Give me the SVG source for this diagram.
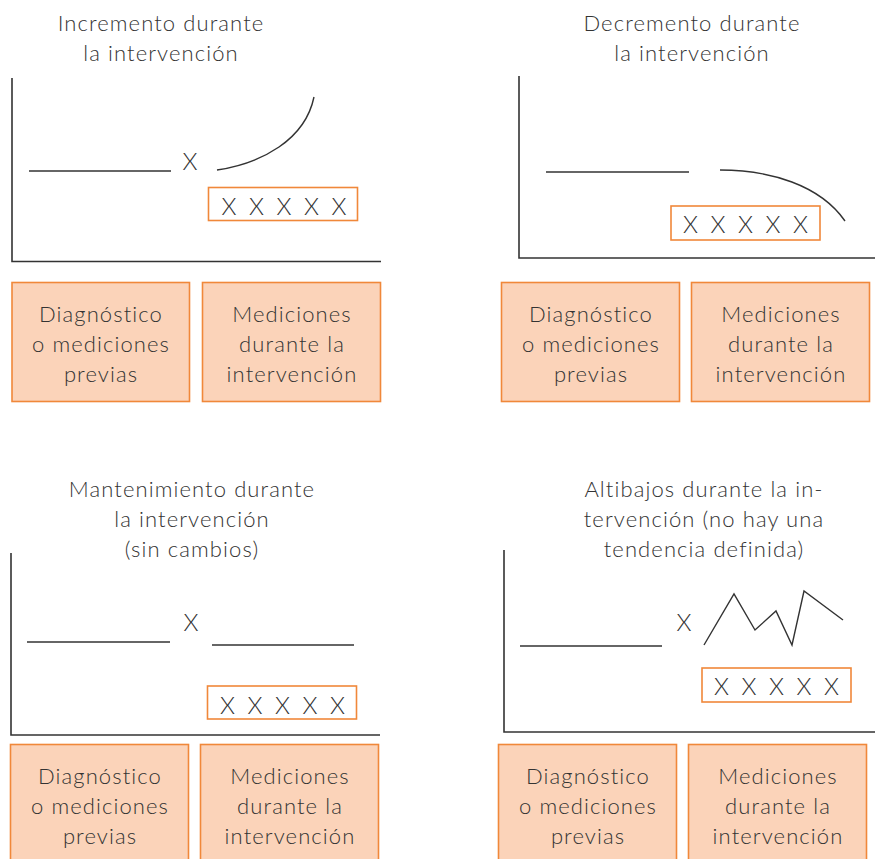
<svg xmlns="http://www.w3.org/2000/svg" width="875" height="859" viewBox="0 0 875 859">
<style>
text{font-family:"Lato","Open Sans","Liberation Sans",sans-serif;font-weight:300;font-size:22px;letter-spacing:1.1px;fill:#333;text-anchor:middle}
.ax{stroke:#333;stroke-width:1.6;fill:none}
.ln{stroke:#333;stroke-width:1.4;fill:none}
.xb{fill:#fff;stroke:#f0883a;stroke-width:1.6}
.cb{fill:#fbd3b9;stroke:#f0883a;stroke-width:1.6}
.xs{font-size:24px;letter-spacing:3px}
.xo{font-size:24px;letter-spacing:0}
</style>
<rect width="875" height="859" fill="#fff"/>

<g id="panel1">
<text x="161" y="31">Incremento durante</text>
<text x="161" y="61">la intervención</text>
<path class="ax" d="M12,78 V261.5 H381"/>
<line class="ln" x1="29" y1="171" x2="171" y2="171"/>
<text class="xo" x="190" y="170">X</text>
<path class="ln" d="M217,170 C262,163 305,140 314,97"/>
<rect class="xb" x="208.5" y="187.5" width="149" height="33"/>
<text class="xs" x="285.5" y="215">X X X X X</text>
</g>
<g id="p1-box1"><rect class="cb" x="12" y="282.5" width="177.5" height="119"/>
<text x="101" y="322">Diagnóstico</text><text x="101" y="352">o mediciones</text><text x="101" y="382">previas</text></g>
<g id="p1-box2"><rect class="cb" x="202.5" y="282.5" width="178" height="119"/>
<text x="292" y="322">Mediciones</text><text x="292" y="352">durante la</text><text x="292" y="382">intervención</text></g>

<g id="panel2">
<text x="692" y="31">Decremento durante</text>
<text x="692" y="61">la intervención</text>
<path class="ax" d="M519,76 V258 H875"/>
<line class="ln" x1="546" y1="172" x2="689" y2="172"/>
<path class="ln" d="M720,170 C770,170 820,185 845,221"/>
<rect class="xb" x="671" y="206" width="149" height="34"/>
<text class="xs" x="747" y="233">X X X X X</text>
</g>
<g id="p2-box1"><rect class="cb" x="501.5" y="282.5" width="178" height="119"/>
<text x="591" y="322">Diagnóstico</text><text x="591" y="352">o mediciones</text><text x="591" y="382">previas</text></g>
<g id="p2-box2"><rect class="cb" x="691.5" y="282.5" width="178" height="119"/>
<text x="781" y="322">Mediciones</text><text x="781" y="352">durante la</text><text x="781" y="382">intervención</text></g>

<g id="panel3">
<text x="192" y="497">Mantenimiento durante</text>
<text x="192" y="527">la intervención</text>
<text x="192" y="557">(sin cambios)</text>
<path class="ax" d="M11,553 V735 H380"/>
<line class="ln" x1="27" y1="642" x2="170" y2="642"/>
<text class="xo" x="191" y="631">X</text>
<line class="ln" x1="212" y1="645" x2="354" y2="645"/>
<rect class="xb" x="207.5" y="686" width="149" height="33"/>
<text class="xs" x="284" y="714">X X X X X</text>
</g>
<g id="p3-box1"><rect class="cb" x="10.5" y="744.5" width="178" height="120"/>
<text x="100" y="784">Diagnóstico</text><text x="100" y="814">o mediciones</text><text x="100" y="844">previas</text></g>
<g id="p3-box2"><rect class="cb" x="200.5" y="744.5" width="178" height="120"/>
<text x="290" y="784">Mediciones</text><text x="290" y="814">durante la</text><text x="290" y="844">intervención</text></g>

<g id="panel4">
<text x="704" y="497">Altibajos durante la in-</text>
<text x="704" y="527">tervención (no hay una</text>
<text x="704" y="557">tendencia definida)</text>
<path class="ax" d="M504,550 V732 H875"/>
<line class="ln" x1="520" y1="646" x2="662" y2="646"/>
<text class="xo" x="684" y="631">X</text>
<polyline class="ln" points="704,645 734,594 755,630 776,611 792,645 804,591 843,620"/>
<rect class="xb" x="702" y="668" width="149" height="34"/>
<text class="xs" x="778" y="695">X X X X X</text>
</g>
<g id="p4-box1"><rect class="cb" x="498.5" y="744.5" width="178" height="120"/>
<text x="588" y="784">Diagnóstico</text><text x="588" y="814">o mediciones</text><text x="588" y="844">previas</text></g>
<g id="p4-box2"><rect class="cb" x="688.5" y="744.5" width="178" height="120"/>
<text x="778" y="784">Mediciones</text><text x="778" y="814">durante la</text><text x="778" y="844">intervención</text></g>

<g id="connectors"></g>
</svg>
